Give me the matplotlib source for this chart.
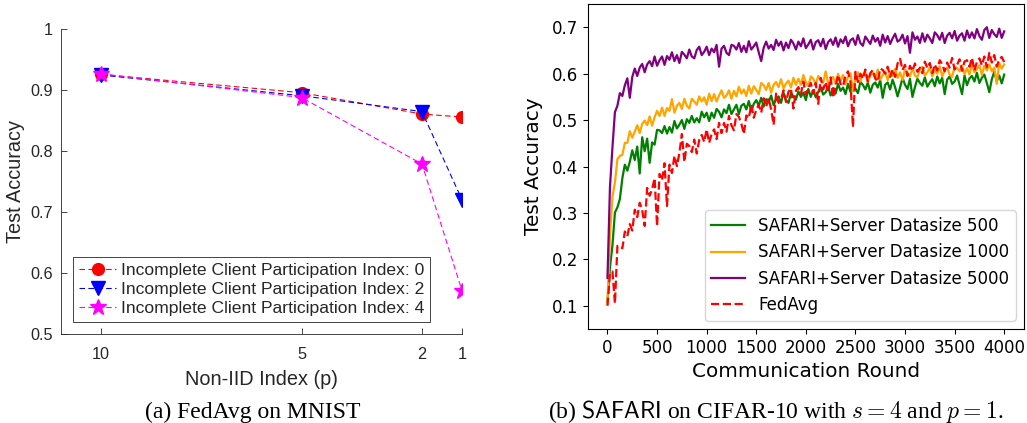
import numpy as np
import matplotlib
matplotlib.use('Agg')
import matplotlib.pyplot as plt

# ---- panel (a): FedAvg on MNIST ----
noniid_p = [10, 5, 2, 1]
acc_icp0 = [0.926, 0.896, 0.861, 0.856]
acc_icp2 = [0.925, 0.891, 0.865, 0.720]
acc_icp4 = [0.927, 0.888, 0.779, 0.571]
labels_a = ['Incomplete Client Participation Index: 0',
            'Incomplete Client Participation Index: 2',
            'Incomplete Client Participation Index: 4']

# ---- panel (b): SAFARI on CIFAR-10, values read every 25 rounds ----
rounds = np.arange(0, 4001, 25)

acc_500 = [
    0.110, 0.183, 0.230, 0.301, 0.312, 0.330, 0.375, 0.404, 0.391, 0.410,
    0.435, 0.414, 0.443, 0.385, 0.463, 0.433, 0.460, 0.408, 0.452, 0.447,
    0.479, 0.478, 0.472, 0.487, 0.471, 0.485, 0.473, 0.498, 0.482, 0.490,
    0.500, 0.481, 0.502, 0.494, 0.509, 0.495, 0.504, 0.495, 0.518, 0.506,
    0.516, 0.498, 0.516, 0.505, 0.524, 0.518, 0.506, 0.523, 0.515, 0.533,
    0.513, 0.523, 0.533, 0.513, 0.531, 0.535, 0.523, 0.541, 0.519, 0.535,
    0.543, 0.531, 0.548, 0.529, 0.545, 0.538, 0.553, 0.532, 0.546, 0.551,
    0.537, 0.559, 0.543, 0.537, 0.558, 0.551, 0.544, 0.562, 0.550, 0.559,
    0.543, 0.567, 0.550, 0.565, 0.549, 0.561, 0.571, 0.555, 0.560, 0.571,
    0.553, 0.569, 0.557, 0.578, 0.563, 0.570, 0.556, 0.578, 0.561, 0.576,
    0.568, 0.558, 0.582, 0.576, 0.566, 0.581, 0.559, 0.576, 0.581, 0.570,
    0.586, 0.548, 0.576, 0.581, 0.566, 0.587, 0.571, 0.551, 0.570, 0.591,
    0.576, 0.567, 0.589, 0.550, 0.571, 0.589, 0.580, 0.574, 0.592, 0.572,
    0.581, 0.588, 0.573, 0.594, 0.579, 0.591, 0.556, 0.587, 0.594, 0.578,
    0.583, 0.596, 0.576, 0.556, 0.596, 0.575, 0.590, 0.595, 0.583, 0.602,
    0.580, 0.591, 0.598, 0.580, 0.560, 0.588, 0.604, 0.584, 0.596, 0.579,
    0.598]

acc_1000 = [
    0.105, 0.250, 0.335, 0.365, 0.416, 0.423, 0.425, 0.451, 0.451, 0.476,
    0.462, 0.475, 0.489, 0.472, 0.492, 0.499, 0.489, 0.508, 0.488, 0.506,
    0.520, 0.509, 0.527, 0.509, 0.526, 0.520, 0.545, 0.516, 0.531, 0.537,
    0.524, 0.546, 0.531, 0.525, 0.546, 0.540, 0.533, 0.551, 0.540, 0.549,
    0.533, 0.557, 0.541, 0.556, 0.540, 0.553, 0.564, 0.548, 0.553, 0.564,
    0.546, 0.563, 0.551, 0.572, 0.557, 0.566, 0.552, 0.574, 0.557, 0.573,
    0.565, 0.556, 0.580, 0.575, 0.565, 0.580, 0.559, 0.576, 0.582, 0.571,
    0.588, 0.568, 0.579, 0.585, 0.570, 0.591, 0.576, 0.589, 0.576, 0.597,
    0.581, 0.573, 0.594, 0.589, 0.577, 0.595, 0.587, 0.581, 0.605, 0.579,
    0.586, 0.593, 0.578, 0.600, 0.584, 0.597, 0.577, 0.593, 0.601, 0.562,
    0.590, 0.603, 0.583, 0.598, 0.603, 0.582, 0.596, 0.602, 0.589, 0.609,
    0.587, 0.597, 0.605, 0.586, 0.604, 0.595, 0.610, 0.591, 0.603, 0.586,
    0.609, 0.602, 0.594, 0.612, 0.596, 0.592, 0.609, 0.615, 0.596, 0.603,
    0.613, 0.594, 0.609, 0.600, 0.616, 0.594, 0.608, 0.613, 0.598, 0.593,
    0.615, 0.612, 0.605, 0.618, 0.599, 0.612, 0.598, 0.621, 0.603, 0.610,
    0.618, 0.597, 0.617, 0.607, 0.620, 0.605, 0.613, 0.578, 0.623, 0.611,
    0.620]

acc_5000 = [
    0.160, 0.356, 0.441, 0.517, 0.531, 0.558, 0.552, 0.575, 0.590, 0.548,
    0.593, 0.611, 0.595, 0.613, 0.621, 0.603, 0.620, 0.627, 0.616, 0.637,
    0.617, 0.629, 0.637, 0.619, 0.638, 0.630, 0.646, 0.627, 0.640, 0.623,
    0.647, 0.641, 0.633, 0.652, 0.637, 0.633, 0.651, 0.658, 0.640, 0.647,
    0.658, 0.640, 0.654, 0.646, 0.662, 0.615, 0.654, 0.660, 0.645, 0.640,
    0.662, 0.660, 0.652, 0.666, 0.647, 0.660, 0.646, 0.670, 0.652, 0.659,
    0.667, 0.646, 0.627, 0.656, 0.669, 0.654, 0.662, 0.651, 0.673, 0.660,
    0.669, 0.650, 0.667, 0.655, 0.673, 0.665, 0.652, 0.669, 0.659, 0.676,
    0.655, 0.663, 0.673, 0.652, 0.668, 0.672, 0.659, 0.675, 0.653, 0.668,
    0.674, 0.662, 0.678, 0.658, 0.674, 0.666, 0.680, 0.659, 0.672, 0.676,
    0.662, 0.683, 0.666, 0.660, 0.680, 0.672, 0.664, 0.682, 0.669, 0.677,
    0.660, 0.684, 0.667, 0.681, 0.664, 0.676, 0.686, 0.669, 0.673, 0.684,
    0.665, 0.681, 0.645, 0.689, 0.673, 0.680, 0.666, 0.687, 0.669, 0.684,
    0.676, 0.666, 0.689, 0.683, 0.673, 0.688, 0.666, 0.682, 0.688, 0.676,
    0.692, 0.671, 0.682, 0.687, 0.671, 0.693, 0.677, 0.689, 0.676, 0.696,
    0.681, 0.673, 0.694, 0.700, 0.677, 0.694, 0.685, 0.679, 0.697, 0.677,
    0.691]

acc_fedavg = [
    0.100, 0.170, 0.174, 0.105, 0.229, 0.227, 0.224, 0.260, 0.250, 0.276,
    0.262, 0.307, 0.291, 0.322, 0.306, 0.272, 0.354, 0.337, 0.351, 0.375,
    0.272, 0.384, 0.370, 0.407, 0.315, 0.404, 0.386, 0.423, 0.401, 0.429,
    0.470, 0.410, 0.449, 0.444, 0.431, 0.458, 0.428, 0.457, 0.468, 0.453,
    0.480, 0.451, 0.470, 0.480, 0.459, 0.494, 0.472, 0.494, 0.475, 0.509,
    0.489, 0.478, 0.513, 0.507, 0.492, 0.470, 0.510, 0.504, 0.533, 0.505,
    0.522, 0.533, 0.516, 0.547, 0.529, 0.547, 0.523, 0.490, 0.557, 0.537,
    0.545, 0.564, 0.539, 0.561, 0.568, 0.525, 0.563, 0.571, 0.556, 0.583,
    0.555, 0.569, 0.580, 0.557, 0.580, 0.535, 0.591, 0.566, 0.582, 0.560,
    0.592, 0.548, 0.573, 0.597, 0.578, 0.573, 0.596, 0.605, 0.582, 0.485,
    0.604, 0.582, 0.600, 0.589, 0.609, 0.583, 0.601, 0.608, 0.590, 0.583,
    0.611, 0.608, 0.600, 0.615, 0.593, 0.609, 0.593, 0.622, 0.632, 0.608,
    0.619, 0.595, 0.617, 0.606, 0.622, 0.604, 0.613, 0.601, 0.626, 0.612,
    0.623, 0.601, 0.620, 0.607, 0.629, 0.620, 0.605, 0.624, 0.613, 0.634,
    0.609, 0.619, 0.631, 0.606, 0.626, 0.629, 0.615, 0.634, 0.607, 0.625,
    0.633, 0.618, 0.637, 0.614, 0.645, 0.624, 0.640, 0.615, 0.631, 0.636,
    0.625]

labels_b = ['SAFARI+Server Datasize 500', 'SAFARI+Server Datasize 1000',
            'SAFARI+Server Datasize 5000', 'FedAvg']

plt.rcParams['mathtext.fontset'] = 'cm'

fig = plt.figure(figsize=(10.27, 4.23), dpi=100)

# ── (a) MATLAB-style panel ──────────────────────────────
SANS_A = 'Liberation Sans'
DARK = '#262626'
ax1 = fig.add_axes([0.0594, 0.2104, 0.3905, 0.7203])
dash = (0, (5, 3))
ax1.plot(noniid_p, acc_icp0, color='red', ls=dash, lw=0.8, marker='o',
         ms=8.5, label=labels_a[0])
ax1.plot(noniid_p, acc_icp2, color='blue', ls=dash, lw=0.8, marker='v',
         ms=9.5, label=labels_a[1])
ax1.plot(noniid_p, acc_icp4, color='magenta', ls=dash, lw=0.8, marker='*',
         ms=12, label=labels_a[2])
ax1.set_xlim(11, 1)
ax1.set_ylim(0.5, 1.0)
ax1.set_xticks(noniid_p)
ax1.set_xticklabels([str(p) for p in noniid_p])
ax1.set_yticks([0.5, 0.6, 0.7, 0.8, 0.9, 1.0])
ax1.set_yticklabels(['0.5', '0.6', '0.7', '0.8', '0.9', '1'])
for s in ['top', 'right']:
    ax1.spines[s].set_visible(False)
for s in ['left', 'bottom']:
    ax1.spines[s].set_color(DARK)
    ax1.spines[s].set_linewidth(0.6)
ax1.tick_params(direction='in', length=4, width=0.6, color=DARK,
                labelcolor=DARK, labelsize=11.7)
ax1.tick_params(axis='x', pad=9)
ax1.tick_params(axis='y', pad=6)
for t in ax1.get_xticklabels() + ax1.get_yticklabels():
    t.set_family(SANS_A)
ax1.set_xlabel('Non-IID Index (p)', family=SANS_A, fontsize=14.3, color=DARK)
ax1.set_ylabel('Test Accuracy', family=SANS_A, fontsize=14.3, color=DARK)
ax1.xaxis.set_label_coords(0.5, -0.118)
ax1.yaxis.set_label_coords(-0.09, 0.5)
leg1 = ax1.legend(loc='lower left', prop={'family': SANS_A, 'size': 12.6},
                  fancybox=False, edgecolor=DARK, framealpha=1,
                  labelspacing=0.2, handlelength=2.1, handletextpad=0.25,
                  borderaxespad=0.7, borderpad=0.35)
leg1.get_frame().set_linewidth(0.6)
for txt in leg1.get_texts():
    txt.set_color(DARK)

# ── (b) matplotlib-default panel ─────────────────────────
ax2 = fig.add_axes([0.5722, 0.2222, 0.4249, 0.7683])
ax2.plot(rounds, acc_500, color='green', lw=1.6, label=labels_b[0])
ax2.plot(rounds, acc_1000, color='orange', lw=1.6, label=labels_b[1])
ax2.plot(rounds, acc_5000, color='purple', lw=1.6, label=labels_b[2])
ax2.plot(rounds, acc_fedavg, color='red', lw=1.6, ls='--', label=labels_b[3])
ax2.set_xlim(-200, 4200)
ax2.set_ylim(0.05, 0.75)
ax2.set_xticks(np.arange(0, 4001, 500))
ax2.set_yticks([0.1, 0.2, 0.3, 0.4, 0.5, 0.6, 0.7])
ax2.tick_params(labelsize=12)
ax2.set_xlabel('Communication Round', fontsize=14.4)
ax2.set_ylabel('Test Accuracy', fontsize=14.4)
ax2.xaxis.set_label_coords(0.5, -0.1)
ax2.yaxis.set_label_coords(-0.102, 0.5)
ax2.legend(loc='lower right', fontsize=12)

# ── captions ─────────────────────────────────────────────
SERIF = 'Liberation Serif'
fig.text(252.7 / 1027, 1 - 418 / 423, '(a) FedAvg on MNIST',
         family=SERIF, fontsize=17, ha='center', va='baseline')
fig.text(776 / 1027, 1 - 418 / 423,
         r'(b) $\mathsf{SAFARI}$ on CIFAR-10 with $s = 4$ and $p = 1$.',
         family=SERIF, fontsize=17, ha='center', va='baseline')

fig.savefig('out.png', dpi=100)
